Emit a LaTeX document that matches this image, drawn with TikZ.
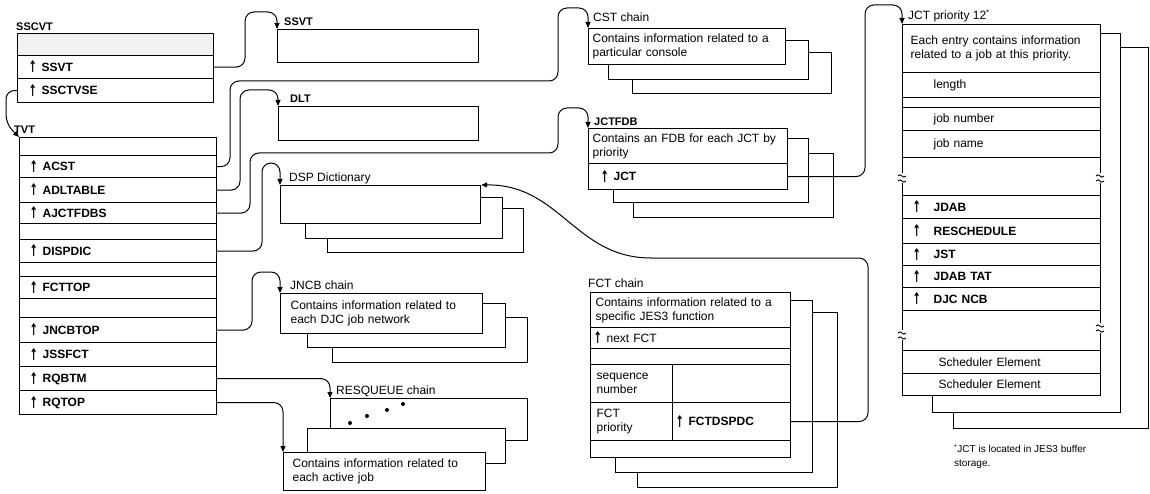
\documentclass[tikz,border=0pt]{standalone}
\usepackage{fontspec}
\setmainfont{Liberation Sans}
\newfontfamily\dvfont{DejaVu Sans}
\usetikzlibrary{arrows.meta}
\tikzset{
  cell/.style={draw, line width=1.2pt, fill=white, inner ysep=0pt, align=left,
    font=\fontsize{12}{14}\selectfont},
  lbl/.style={font=\fontsize{11}{12}\selectfont\bfseries, inner sep=0pt, anchor=base west},
  ttl/.style={font=\fontsize{12}{13}\selectfont, inner sep=0pt, anchor=base west},
  foot/.style={font=\fontsize{10}{14}\selectfont, inner sep=0pt, anchor=north west, align=left},
  conn/.style={line width=1pt, rounded corners=9pt, -{Triangle[length=6pt,width=5pt]}},
  brkline/.style={line width=0.9pt},
}
\newcommand\up{\makebox[13pt][l]{\dvfont\bfseries\fontsize{11}{12}\selectfont\raisebox{-1.8pt}{\scalebox{0.9}[1.45]{↑}}}}
\newcommand\fl[1]{\up\textbf{#1}}
\newcommand\cell[7][7]{%
  \pgfmathsetmacro\cellwd{#5-#3}%
  \pgfmathsetmacro\cellht{#6-#4}%
  \pgfmathsetmacro\celltw{#5-#3-2*#1}%
  \node[cell, inner xsep=#1pt, minimum width=\cellwd pt, minimum height=\cellht pt,
        text width=\celltw pt, anchor=north west] (#2) at (#3,#4) {#7};}
\newcommand\brk[2]{%
  \fill[white] (#1-2.5,#2-5) rectangle (#1+2.5,#2+5);
  \draw[brkline] (#1-4,#2-2) .. controls (#1-1,#2-6) and (#1+1,#2+2) .. (#1+4,#2-2);
  \draw[brkline] (#1-4,#2+3) .. controls (#1-1,#2-1) and (#1+1,#2+7) .. (#1+4,#2+3);}
\begin{document}
\begin{tikzpicture}[x=1pt,y=-1pt]
\fill[white] (0,0) rectangle (1150,494);
\useasboundingbox (0,0) rectangle (1150,494);

% ---------- SSCVT ----------
\node[lbl] (l-sscvt) at (16,31) {SSCVT};
\node[cell, fill=black!5, minimum width=196pt, minimum height=22pt, anchor=north west] (sscvt-top) at (17,33) {};
\cell[11]{sscvt-ssvt}{17}{55}{213}{78}{\fl{SSVT}}
\cell[11]{sscvt-tvse}{17}{78}{213}{102}{\fl{SSCTVSE}}

% ---------- TVT ----------
\node[lbl] (l-tvt) at (14,134) {TVT};
\cell{tvt-0}{19}{137}{216}{155}{}
\cell[10]{tvt-acst}{19}{155}{216}{177}{\fl{ACST}}
\cell[10]{tvt-adl}{19}{177}{216}{202}{\fl{ADLTABLE}}
\cell[10]{tvt-ajct}{19}{202}{216}{223}{\fl{AJCTFDBS}}
\cell{tvt-b1}{19}{223}{216}{239}{}
\cell[10]{tvt-disp}{19}{239}{216}{262}{\fl{DISPDIC}}
\cell{tvt-b2}{19}{262}{216}{276}{}
\cell[10]{tvt-fct}{19}{276}{216}{298}{\fl{FCTTOP}}
\cell{tvt-b3}{19}{298}{216}{317}{}
\cell[10]{tvt-jncb}{19}{317}{216}{342}{\fl{JNCBTOP}}
\cell[10]{tvt-jss}{19}{342}{216}{366}{\fl{JSSFCT}}
\cell[10]{tvt-rqb}{19}{366}{216}{390}{\fl{RQBTM}}
\cell[10]{tvt-rqt}{19}{390}{216}{414}{\fl{RQTOP}}

% ---------- SSVT / DLT ----------
\node[lbl] (l-ssvt) at (284,26) {SSVT};
\cell{ssvt}{277}{29}{478}{62}{}
\node[lbl] (l-dlt) at (290,103) {DLT};
\cell{dlt}{278}{106}{478}{140}{}

% ---------- DSP Dictionary ----------
\node[ttl] (l-dsp) at (289,182) {DSP Dictionary};
\cell{dsp3}{327}{208}{523}{252}{}
\cell{dsp2}{305}{197}{502}{238}{}
\cell{dsp}{280}{185}{480}{223}{}

% ---------- JNCB chain ----------
\node[ttl] (l-jncb) at (290,289) {JNCB chain};
\cell{jncb3}{332}{317}{527}{362}{}
\cell{jncb2}{307}{303}{505}{347}{}
\cell[10]{jncb}{280}{293}{482}{333}{Contains information related to\\each DJC job network}

% ---------- RESQUEUE chain ----------
\node[ttl] (l-resq) at (336,394) {RESQUEUE chain};
\cell{resq3}{330}{398}{527}{440}{}
\cell{resq2}{307}{428}{505}{463}{}
\cell[9]{resq}{283}{452}{485}{490}{Contains information related to\\each active job}
\fill (350,423) circle (2pt) (367,416) circle (2pt) (387,410) circle (2pt) (403,404) circle (2pt);

% ---------- CST chain ----------
\node[ttl] (l-cst) at (593,22) {CST chain};
\cell{cst3}{632}{52}{831}{93}{}
\cell{cst2}{608}{40}{808}{79}{}
\cell[4]{cst}{588}{28}{785}{64}{Contains information related to a\\particular console}

% ---------- JCTFDB ----------
\node[lbl] (l-fdb) at (594,126) {JCTFDB};
\cell{fdb3}{633}{153}{833}{217}{}
\cell{fdb2}{613}{138}{808}{202}{}
\cell[4]{fdb}{588}{128}{787}{163}{Contains an FDB for each JCT by\\priority}
\cell[12]{fdb-jct}{588}{163}{787}{189}{\fl{JCT}}

% ---------- FCT chain ----------
\node[ttl] (l-fct) at (588,287) {FCT chain};
\cell{fct3}{637}{312}{837}{487}{}
\cell{fct2}{615}{300}{812}{472}{}
\cell[5]{fct-desc}{590}{292}{790}{327}{Contains information related to a\\specific JES3 function}
\cell[3]{fct-next}{590}{327}{790}{348}{\up next FCT}
\cell{fct-b1}{590}{348}{790}{364}{}
\cell[6]{fct-seq}{590}{364}{672}{402}{sequence\\number}
\cell{fct-seqr}{672}{364}{790}{402}{}
\cell[6]{fct-prio}{590}{402}{672}{440}{FCT\\priority}
\cell[3]{fct-dspdc}{672}{402}{790}{440}{\fl{FCTDSPDC}}
\cell{fct-b2}{590}{440}{790}{457}{}

% ---------- JCT priority 12 ----------
\node[ttl] (l-jct) at (908,20) {JCT priority 12\textsuperscript{*}};
\cell{jct3}{953}{47}{1148}{428}{}
\cell{jct2}{932}{33}{1120}{412}{}
\cell[8]{jct-desc}{902}{24}{1100}{72}{Each entry contains information\\related to a job at this priority.}
\cell[31]{jct-len}{902}{72}{1100}{97}{length}
\cell{jct-b1}{902}{97}{1100}{107}{}
\cell[31]{jct-num}{902}{107}{1100}{130}{job number}
\cell[31]{jct-name}{902}{130}{1100}{157}{job name}
\cell{jct-b2}{902}{157}{1100}{195}{}
\cell[10]{jct-jdab}{902}{195}{1100}{218}{\up\hspace{8pt}\textbf{JDAB}}
\cell[10]{jct-resch}{902}{218}{1100}{243}{\up\hspace{8pt}\textbf{RESCHEDULE}}
\cell[10]{jct-jst}{902}{243}{1100}{265}{\up\hspace{8pt}\textbf{JST}}
\cell[10]{jct-tat}{902}{265}{1100}{287}{\up\hspace{8pt}\textbf{JDAB TAT}}
\cell[10]{jct-djc}{902}{287}{1100}{310}{\up\hspace{8pt}\textbf{DJC NCB}}
\cell{jct-b3}{902}{310}{1100}{350}{}
\cell[36]{jct-se1}{902}{350}{1100}{373}{Scheduler Element}
\cell[36]{jct-se2}{902}{373}{1100}{395}{Scheduler Element}
\brk{902}{178}
\brk{1100}{178}
\brk{902}{335}
\brk{1100}{328}
\node[foot] (foot) at (954,444) {\textsuperscript{*}JCT is located in JES3 buffer\\storage.};

% ---------- connectors ----------
\draw[conn] (sscvt-tvse.west) -- (6,90) -- (6,124) -- (tvt-0.north west);
\draw[conn] (sscvt-ssvt.east) -| (245,12) -| (ssvt.north west);
\draw[conn] (tvt-acst.east) -| (230,81) -| (558,8) -| (cst.north west);
\draw[conn] (tvt-adl.east) -| (240,90) -| (dlt.north west);
\draw[conn] (tvt-ajct.east) -| (250,153) -| (558,108) -| (fdb.north west);
\draw[conn] (tvt-disp.east) -| (262,163) -| (dsp.north west);
\draw[conn] (tvt-jncb.east) -| (252,272) -| (jncb.north west);
\draw[conn] (tvt-rqb.east) -| (resq3.north west);
\draw[conn] (tvt-rqt.east) -| (resq.north west);
\draw[conn] (fdb-jct.east) -| (865,5) -| (jct-desc.north west);
\draw[conn] (fct-dspdc.east) -| (868,258) -- (660,258) .. controls (575,258) and (560,184) .. (dsp.north east);
\end{tikzpicture}
\end{document}
